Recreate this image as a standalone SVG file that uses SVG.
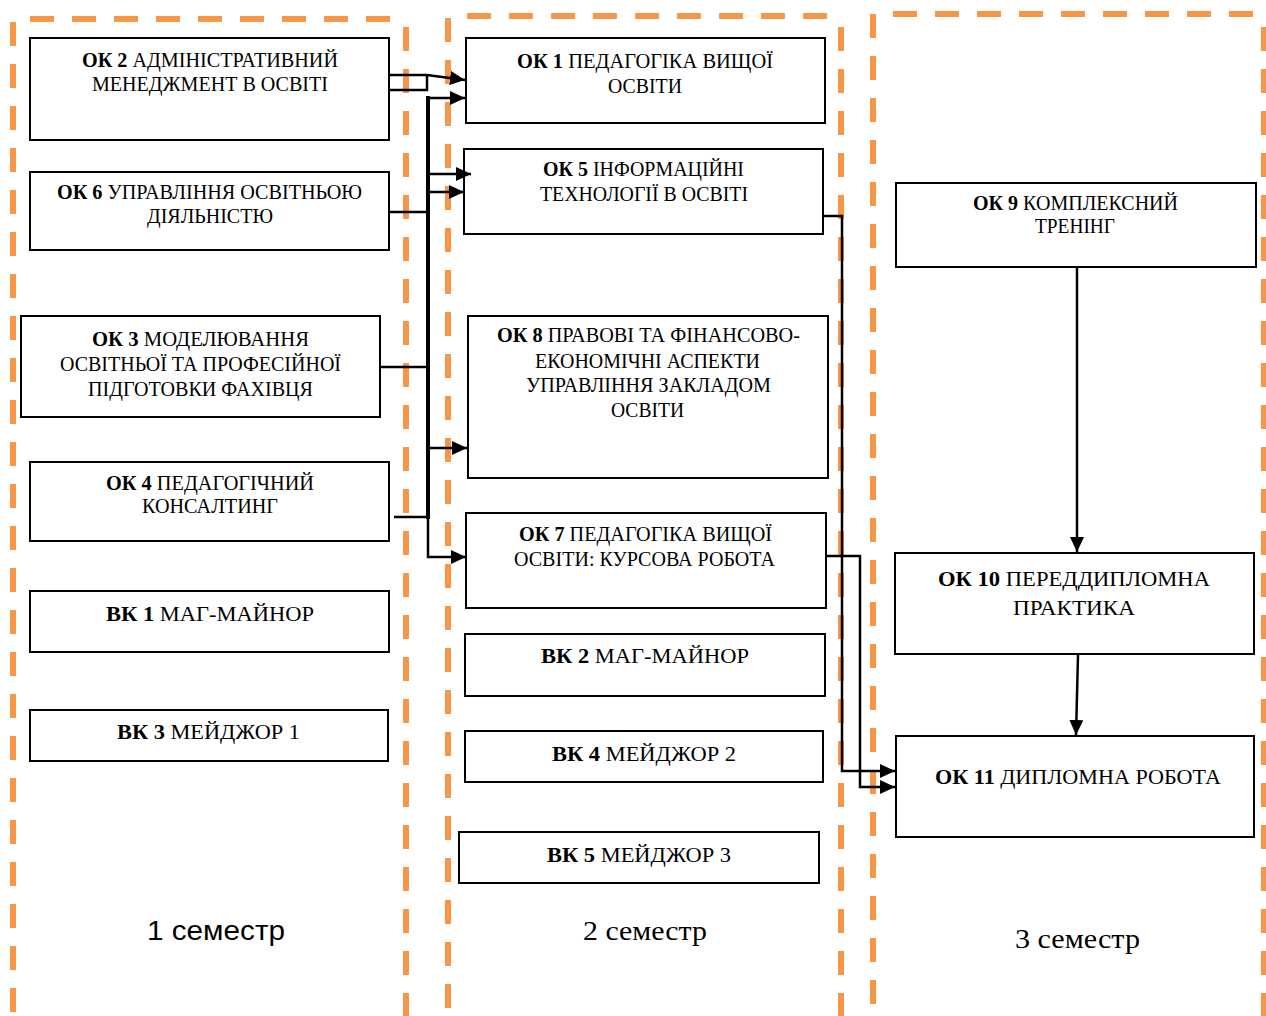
<svg xmlns="http://www.w3.org/2000/svg" width="1266" height="1016" viewBox="0 0 1266 1016">
<style>
.frame{fill:none;stroke:#f79646;stroke-width:6;stroke-dasharray:24 18}
.box{fill:#fff;stroke:#000;stroke-width:2}
.t{font-family:"Liberation Serif","Times New Roman",serif;font-size:21px;fill:#000}
.b{font-weight:bold}
.sem{font-family:"Liberation Serif","Times New Roman",serif;font-size:28px;fill:#000}
.conn{fill:none;stroke:#000;stroke-width:2.5}
.bar{fill:none;stroke:#000;stroke-width:4}
</style>
<defs>
<marker id="ah" markerUnits="userSpaceOnUse" markerWidth="16" markerHeight="14" refX="15" refY="7" orient="auto">
<path d="M0,0 L15,7 L0,14 z" fill="#000"/>
</marker>
</defs>
<rect width="1266" height="1016" fill="#fff"/>
<g id="frames">
<path class="frame" d="M13,22 V1016"/>
<path class="frame" d="M30,19 H400"/>
<path class="frame" d="M406,27 V1016"/>
<path class="frame" d="M448,18 V1016"/>
<path class="frame" d="M467,16 H835"/>
<path class="frame" d="M841,27 V1016"/>
<path class="frame" d="M873,14 V1016"/>
<path class="frame" d="M893,14 H1262"/>
<path class="frame" d="M1264,27 V1016"/>
</g>
<g id="ok2"><rect class="box" x="30" y="38" width="359" height="102"/>
<text class="t" x="82" y="67" textLength="256" lengthAdjust="spacingAndGlyphs"><tspan class="b">ОК 2</tspan> АДМІНІСТРАТИВНИЙ</text>
<text class="t" x="92" y="91" textLength="236" lengthAdjust="spacingAndGlyphs">МЕНЕДЖМЕНТ В ОСВІТІ</text></g>
<g id="ok6"><rect class="box" x="30" y="172" width="359" height="78"/>
<text class="t" x="57" y="199" textLength="305" lengthAdjust="spacingAndGlyphs"><tspan class="b">ОК 6</tspan> УПРАВЛІННЯ ОСВІТНЬОЮ</text>
<text class="t" x="147" y="223" textLength="126" lengthAdjust="spacingAndGlyphs">ДІЯЛЬНІСТЮ</text></g>
<g id="ok3"><rect class="box" x="21" y="316" width="359" height="101"/>
<text class="t" x="92" y="346" textLength="217" lengthAdjust="spacingAndGlyphs"><tspan class="b">ОК 3</tspan> МОДЕЛЮВАННЯ</text>
<text class="t" x="60" y="371" textLength="281" lengthAdjust="spacingAndGlyphs">ОСВІТНЬОЇ ТА ПРОФЕСІЙНОЇ</text>
<text class="t" x="88" y="396" textLength="225" lengthAdjust="spacingAndGlyphs">ПІДГОТОВКИ ФАХІВЦЯ</text></g>
<g id="ok4"><rect class="box" x="30" y="462" width="359" height="79"/>
<text class="t" x="106" y="490" textLength="208" lengthAdjust="spacingAndGlyphs"><tspan class="b">ОК 4</tspan>  ПЕДАГОГІЧНИЙ</text>
<text class="t" x="142" y="513" textLength="136" lengthAdjust="spacingAndGlyphs">КОНСАЛТИНГ</text></g>
<g id="vk1"><rect class="box" x="30" y="591" width="359" height="61"/>
<text class="t" x="106" y="621" textLength="208" lengthAdjust="spacingAndGlyphs"><tspan class="b">ВК 1</tspan> МАГ-МАЙНОР</text></g>
<g id="vk3"><rect class="box" x="30" y="710" width="358" height="51"/>
<text class="t" x="117" y="739" textLength="183" lengthAdjust="spacingAndGlyphs"><tspan class="b">ВК 3</tspan> МЕЙДЖОР 1</text></g>
<g id="ok1"><rect class="box" x="466" y="38" width="359" height="85"/>
<text class="t" x="517" y="68" textLength="256" lengthAdjust="spacingAndGlyphs"><tspan class="b">ОК 1</tspan> ПЕДАГОГІКА ВИЩОЇ</text>
<text class="t" x="608" y="93" textLength="74" lengthAdjust="spacingAndGlyphs">ОСВІТИ</text></g>
<g id="ok5"><rect class="box" x="464" y="149" width="359" height="85"/>
<text class="t" x="543" y="176" textLength="201" lengthAdjust="spacingAndGlyphs"><tspan class="b">ОК 5</tspan> ІНФОРМАЦІЙНІ</text>
<text class="t" x="540" y="201" textLength="208" lengthAdjust="spacingAndGlyphs">ТЕХНОЛОГІЇ В ОСВІТІ</text></g>
<g id="ok8"><rect class="box" x="468" y="316" width="360" height="162"/>
<text class="t" x="497" y="342" textLength="303" lengthAdjust="spacingAndGlyphs"><tspan class="b">ОК 8</tspan> ПРАВОВІ ТА ФІНАНСОВО-</text>
<text class="t" x="535" y="368" textLength="225" lengthAdjust="spacingAndGlyphs">ЕКОНОМІЧНІ АСПЕКТИ</text>
<text class="t" x="526" y="392" textLength="245" lengthAdjust="spacingAndGlyphs">УПРАВЛІННЯ ЗАКЛАДОМ</text>
<text class="t" x="611" y="417" textLength="73" lengthAdjust="spacingAndGlyphs">ОСВІТИ</text></g>
<g id="ok7"><rect class="box" x="466" y="513" width="360" height="95"/>
<text class="t" x="519" y="541" textLength="253" lengthAdjust="spacingAndGlyphs"><tspan class="b">ОК 7</tspan>  ПЕДАГОГІКА ВИЩОЇ</text>
<text class="t" x="514" y="566" textLength="261" lengthAdjust="spacingAndGlyphs">ОСВІТИ: КУРСОВА РОБОТА</text></g>
<g id="vk2"><rect class="box" x="465" y="634" width="360" height="62"/>
<text class="t" x="541" y="663" textLength="208" lengthAdjust="spacingAndGlyphs"><tspan class="b">ВК 2</tspan> МАГ-МАЙНОР</text></g>
<g id="vk4"><rect class="box" x="465" y="731" width="358" height="51"/>
<text class="t" x="552" y="761" textLength="184" lengthAdjust="spacingAndGlyphs"><tspan class="b">ВК 4</tspan> МЕЙДЖОР 2</text></g>
<g id="vk5"><rect class="box" x="459" y="832" width="360" height="51"/>
<text class="t" x="547" y="862" textLength="184" lengthAdjust="spacingAndGlyphs"><tspan class="b">ВК 5</tspan> МЕЙДЖОР 3</text></g>
<g id="ok9"><rect class="box" x="896" y="183" width="360" height="84"/>
<text class="t" x="973" y="210" textLength="205" lengthAdjust="spacingAndGlyphs"><tspan class="b">ОК 9</tspan> КОМПЛЕКСНИЙ</text>
<text class="t" x="1035" y="233" textLength="80" lengthAdjust="spacingAndGlyphs">ТРЕНІНГ</text></g>
<g id="ok10"><rect class="box" x="895" y="553" width="359" height="101"/>
<text class="t" x="938" y="586" textLength="272" lengthAdjust="spacingAndGlyphs"><tspan class="b">ОК 10</tspan> ПЕРЕДДИПЛОМНА</text>
<text class="t" x="1013" y="615" textLength="122" lengthAdjust="spacingAndGlyphs">ПРАКТИКА</text></g>
<g id="ok11"><rect class="box" x="896" y="736" width="358" height="101"/>
<text class="t" x="935" y="784" textLength="286" lengthAdjust="spacingAndGlyphs"><tspan class="b">ОК 11</tspan> ДИПЛОМНА РОБОТА</text></g>
<g id="labels">
<text x="147" y="940" font-family="'Liberation Sans', Arial, sans-serif" font-size="28" textLength="138" lengthAdjust="spacingAndGlyphs">1 семестр</text>
<text class="sem" x="583" y="940" textLength="124" lengthAdjust="spacingAndGlyphs">2 семестр</text>
<text class="sem" x="1015" y="948" textLength="125" lengthAdjust="spacingAndGlyphs">3 семестр</text>
</g>
<g id="connectors">
<path class="bar" d="M428,96 V519"/>
<path class="conn" d="M389,75 H427 L465,80" marker-end="url(#ah)"/>
<path class="conn" d="M389,90 H427 V75"/>
<path class="conn" d="M430,98 H465" marker-end="url(#ah)"/>
<path class="conn" d="M430,174 H471" marker-end="url(#ah)"/>
<path class="conn" d="M430,192 H464" marker-end="url(#ah)"/>
<path class="conn" d="M389,212 H428"/>
<path class="conn" d="M380,367 H428"/>
<path class="conn" d="M430,448 H467" marker-end="url(#ah)"/>
<path class="conn" d="M394,517 H430"/>
<path class="conn" d="M428,517 V557 H466" marker-end="url(#ah)"/>
<path class="conn" d="M822,216 H842 V771 H895" marker-end="url(#ah)"/>
<path class="conn" d="M825,556 H860 V787 H895" marker-end="url(#ah)"/>
<path class="conn" d="M1077,267 V552" marker-end="url(#ah)"/>
<path class="conn" d="M1078,655 L1076,735" marker-end="url(#ah)"/>
</g>
</svg>
